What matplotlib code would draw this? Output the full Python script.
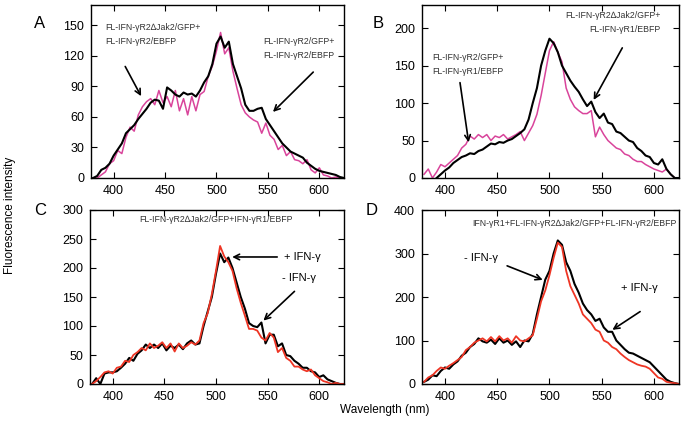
import numpy as np
import matplotlib.pyplot as plt

plt.rcParams['font.family'] = ['Liberation Sans', 'DejaVu Sans']

# wavelength grid (nm)
wl = np.arange(380, 625, 4)

# panel A
a_black = [0, 2, 8, 10, 14, 22, 28, 34, 44, 48, 52, 58, 63, 68, 74, 77, 76, 68, 89, 86,
           82, 80, 84, 82, 83, 80, 86, 94, 100, 112, 132, 139, 128, 134, 112, 100, 88, 72, 66, 66,
           68, 69, 58, 52, 46, 40, 34, 30, 26, 24, 22, 20, 15, 12, 9, 7, 6, 5, 4, 3,
           1, 0]
a_pink = [0, 0, 3, 6, 14, 17, 27, 24, 40, 50, 46, 62, 70, 75, 78, 72, 86, 74, 80, 70,
          86, 66, 78, 62, 80, 66, 82, 85, 100, 110, 125, 143, 122, 128, 105, 88, 72, 64, 60, 57,
          55, 44, 54, 42, 38, 28, 32, 22, 26, 18, 17, 14, 18, 8, 5, 10, 3, 2, 0, 1,
          0, 0]

# panel B
b_black = [np.nan, np.nan, np.nan, 0, 5, 10, 14, 20, 24, 28, 30, 33, 32, 36, 38, 42, 46, 45, 48, 47,
           50, 52, 56, 60, 65, 78, 100, 120, 150, 170, 186, 180, 168, 150, 140, 130, 122, 115, 105, 96,
           102, 88, 80, 86, 74, 72, 62, 60, 55, 50, 48, 40, 36, 30, 28, 20, 18, 25, 12, 5,
           0, 0]
b_pink = [5, 12, 0, 8, 18, 15, 20, 25, 30, 40, 45, 56, 52, 58, 54, 58, 50, 56, 54, 58,
          52, 55, 58, 62, 50, 60, 70, 85, 110, 140, 170, 182, 168, 155, 120, 105, 95, 90, 86, 86,
          90, 55, 68, 58, 50, 45, 40, 38, 32, 30, 25, 22, 22, 18, 15, 12, 10, 8, 12, 5,
          0, np.nan]

# panel C
c_black = [0, 10, 0, 18, 20, 20, 22, 28, 35, 45, 40, 52, 58, 68, 62, 68, 62, 70, 58, 66,
           62, 68, 60, 70, 75, 68, 70, 100, 125, 150, 190, 225, 210, 218, 200, 175, 150, 130, 105, 100,
           98, 106, 70, 85, 85, 65, 70, 50, 48, 40, 35, 28, 28, 22, 20, 12, 15, 8, 5, 2,
           0, 0]
c_red = [0, 5, 12, 20, 22, 18, 28, 30, 40, 38, 50, 55, 62, 58, 70, 62, 66, 72, 62, 70,
         56, 70, 62, 66, 72, 68, 75, 105, 122, 155, 195, 238, 220, 210, 195, 165, 140, 118, 95, 95,
         92, 80, 75, 88, 80, 55, 62, 45, 40, 30, 30, 25, 22, 25, 15, 10, 5, 3, 0, 2,
         0, 0]

# panel D
d_black = [5, 10, 20, 18, 30, 38, 35, 45, 52, 65, 72, 85, 92, 105, 98, 95, 102, 92, 105, 95,
           100, 90, 98, 85, 100, 98, 115, 160, 200, 240, 260, 300, 330, 320, 280, 260, 230, 210, 185, 170,
           160, 145, 150, 130, 120, 120, 100, 90, 80, 72, 70, 65, 60, 55, 50, 40, 30, 20, 10, 5,
           2, 0]
d_red = [5, 15, 20, 30, 38, 35, 42, 48, 55, 62, 78, 85, 95, 100, 105, 98, 108, 98, 110, 100,
         105, 95, 110, 100, 98, 105, 112, 150, 190, 215, 250, 290, 325, 315, 260, 225, 205, 185, 160, 150,
         140, 125, 120, 100, 95, 85, 80, 70, 62, 55, 50, 45, 42, 40, 35, 25, 15, 12, 5, 3,
         2, 0]

fig = plt.figure(figsize=(6.85, 4.29), dpi=100)
W, H = 685.0, 429.0

def add_ax(x0, x1, y0, y1):
    return fig.add_axes([x0 / W, 1 - y1 / H, (x1 - x0) / W, (y1 - y0) / H])

axA = add_ax(91, 344, 5, 178)
axB = add_ax(422, 679, 5, 178)
axC = add_ax(90, 344, 210, 384)
axD = add_ax(422, 679, 210, 384)

pink = '#d9449b'
red = '#ee3524'

axA.plot(wl, a_pink, color=pink, lw=1.1)
axA.plot(wl, a_black, color='black', lw=1.5)
axB.plot(wl, b_pink, color=pink, lw=1.1)
axB.plot(wl, b_black, color='black', lw=1.5)
axC.plot(wl, c_black, color='black', lw=1.5)
axC.plot(wl, c_red, color=red, lw=1.3)
axD.plot(wl, d_black, color='black', lw=1.5)
axD.plot(wl, d_red, color=red, lw=1.3)

ylims = [170, 231, 300, 400]
yticks = [[0, 30, 60, 90, 120, 150], [0, 50, 100, 150, 200],
          [0, 50, 100, 150, 200, 250, 300], [0, 100, 200, 300, 400]]
for ax, top, yt in zip([axA, axB, axC, axD], ylims, yticks):
    ax.set_xlim(378, 624)
    ax.set_ylim(0, top)
    ax.set_xticks([400, 450, 500, 550, 600])
    ax.set_yticks(yt)
    ax.tick_params(direction='in', top=True, right=True, labelsize=9, length=4, pad=5)
    for s in ax.spines.values():
        s.set_linewidth(1.0)

arrow = dict(arrowstyle='->', color='black', lw=1.2)
small = 6.3

axA.text(392, 152, 'FL-IFN-\u03b3R2\u2206Jak2/GFP+\nFL-IFN-\u03b3R2/EBFP', fontsize=small,
         va='top', ha='left', linespacing=1.7, color='#333333')
axA.annotate('', xy=(428, 78), xytext=(410, 112), arrowprops=arrow)
axA.text(580, 127, 'FL-IFN-\u03b3R2/GFP+\nFL-IFN-\u03b3R2/EBFP', fontsize=small,
         va='center', ha='center', linespacing=1.7, color='#333333')
axA.annotate('', xy=(553, 63), xytext=(596, 106), arrowprops=arrow)

axB.text(422, 152, 'FL-IFN-\u03b3R2/GFP+\nFL-IFN-\u03b3R1/EBFP', fontsize=small,
         va='center', ha='center', linespacing=1.7, color='#333333')
axB.annotate('', xy=(423, 44), xytext=(414, 131), arrowprops=arrow)
axB.text(606, 208, 'FL-IFN-\u03b3R2\u2206Jak2/GFP+\nFL-IFN-\u03b3R1/EBFP', fontsize=small,
         va='center', ha='right', linespacing=1.7, color='#333333')
axB.annotate('', xy=(541, 101), xytext=(571, 177), arrowprops=arrow)

axC.text(500, 284, 'FL-IFN-\u03b3R2\u2206Jak2/GFP+IFN-\u03b3R1/EBFP', fontsize=small,
         va='center', ha='center', color='#333333')
axC.text(584, 219, '+ IFN-\u03b3', fontsize=8, va='center', ha='center')
axC.annotate('', xy=(513, 219), xytext=(562, 219), arrowprops=arrow)
axC.text(580, 183, '- IFN-\u03b3', fontsize=8, va='center', ha='center')
axC.annotate('', xy=(544, 106), xytext=(578, 163), arrowprops=arrow)

axD.text(524, 368, 'IFN-\u03b3R1+FL-IFN-\u03b3R2\u2206Jak2/GFP+FL-IFN-\u03b3R2/EBFP', fontsize=small,
         va='center', ha='center', color='#333333')
axD.text(434, 290, '- IFN-\u03b3', fontsize=8, va='center', ha='center')
axD.annotate('', xy=(496, 237), xytext=(457, 274), arrowprops=arrow)
axD.text(586, 221, '+ IFN-\u03b3', fontsize=8, va='center', ha='center')
axD.annotate('', xy=(558, 121), xytext=(589, 170), arrowprops=arrow)

for lab, px, py in [('A', 40, 23), ('B', 378, 23), ('C', 40, 210), ('D', 372, 210)]:
    fig.text(px / W, 1 - py / H, lab, fontsize=12, ha='center', va='center')

fig.text(10 / W, 1 - 215 / H, 'Fluorescence intensity', rotation=90, fontsize=8.5,
         ha='center', va='center')
fig.text(385 / W, 1 - 410 / H, 'Wavelength (nm)', fontsize=8.5, ha='center', va='center')

fig.savefig('out.png', dpi=100)
